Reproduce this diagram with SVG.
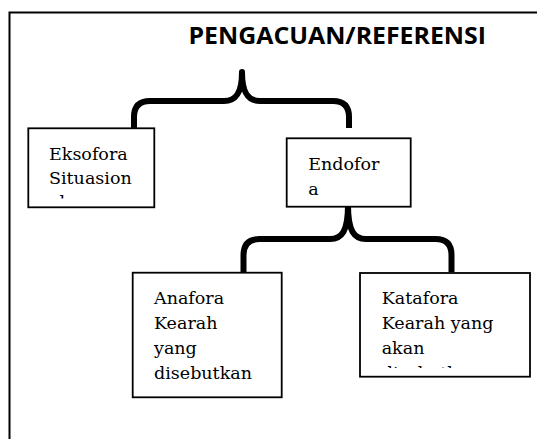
<svg xmlns="http://www.w3.org/2000/svg" width="537" height="439" viewBox="0 0 537 439">
<style>
.frame{fill:none;stroke:#000;stroke-width:2}
.box{fill:#fff;stroke:#000;stroke-width:1.8}
.brace{fill:none;stroke:#000;stroke-width:6;stroke-linejoin:round}
.t{font-family:"DejaVu Serif","Liberation Serif",serif;font-size:17.5px;fill:#000}
.title{font-family:"Open Sans","Liberation Sans",sans-serif;font-weight:bold;font-size:23px;fill:#000}
</style>
<defs>
<clipPath id="clipEks"><rect x="28" y="128" width="127" height="70.5"/></clipPath>
<clipPath id="clipKat"><rect x="360" y="273" width="170" height="95"/></clipPath>
</defs>
<rect x="0" y="0" width="537" height="439" fill="#fff"/>
<rect class="frame" x="9.5" y="12.5" width="540" height="440"/>
<text id="title" class="title" x="188.5" y="44.3" textLength="297.5" lengthAdjust="spacingAndGlyphs">PENGACUAN/REFERENSI</text>
<g id="connectors">
<path class="brace" d="M134,128 V117 Q134,101 150,101 H224 C236,101 242,93 242,72 C242,93 248,101 260,101 H333 Q349,101 349,117 V128"/>
<path class="brace" d="M243.5,272 V255 Q243.5,239 259.5,239 H330 C342,239 348,231 348,205 C348,231 354,239 366,239 H435.5 Q451.5,239 451.5,255 V272"/>
</g>
<g id="eksofora">
<rect class="box" x="28.3" y="128.3" width="126" height="79"/>
<g clip-path="url(#clipEks)">
<text class="t" x="49" y="159.5">Eksofora</text>
<text class="t" x="49" y="183.7">Situasion</text>
<text class="t" x="49" y="207.9">al</text>
</g>
</g>
<g id="endofora">
<rect class="box" x="286.7" y="138.3" width="124" height="68.4"/>
<text class="t" x="308.3" y="170">Endofor</text>
<text class="t" x="308.3" y="195">a</text>
</g>
<g id="anafora">
<rect class="box" x="132.7" y="272.7" width="149" height="124.6"/>
<text class="t" x="154" y="304.3">Anafora</text>
<text class="t" x="154" y="329">Kearah</text>
<text class="t" x="154" y="354">yang</text>
<text class="t" x="154" y="379">disebutkan</text>
</g>
<g id="katafora">
<rect class="box" x="360" y="273" width="170" height="103.7"/>
<g clip-path="url(#clipKat)">
<text class="t" x="381.7" y="304.3">Katafora</text>
<text class="t" x="381.7" y="329">Kearah yang</text>
<text class="t" x="381.7" y="354">akan</text>
<text class="t" x="381.7" y="379">disebutkan</text>
</g>
</g>
</svg>
